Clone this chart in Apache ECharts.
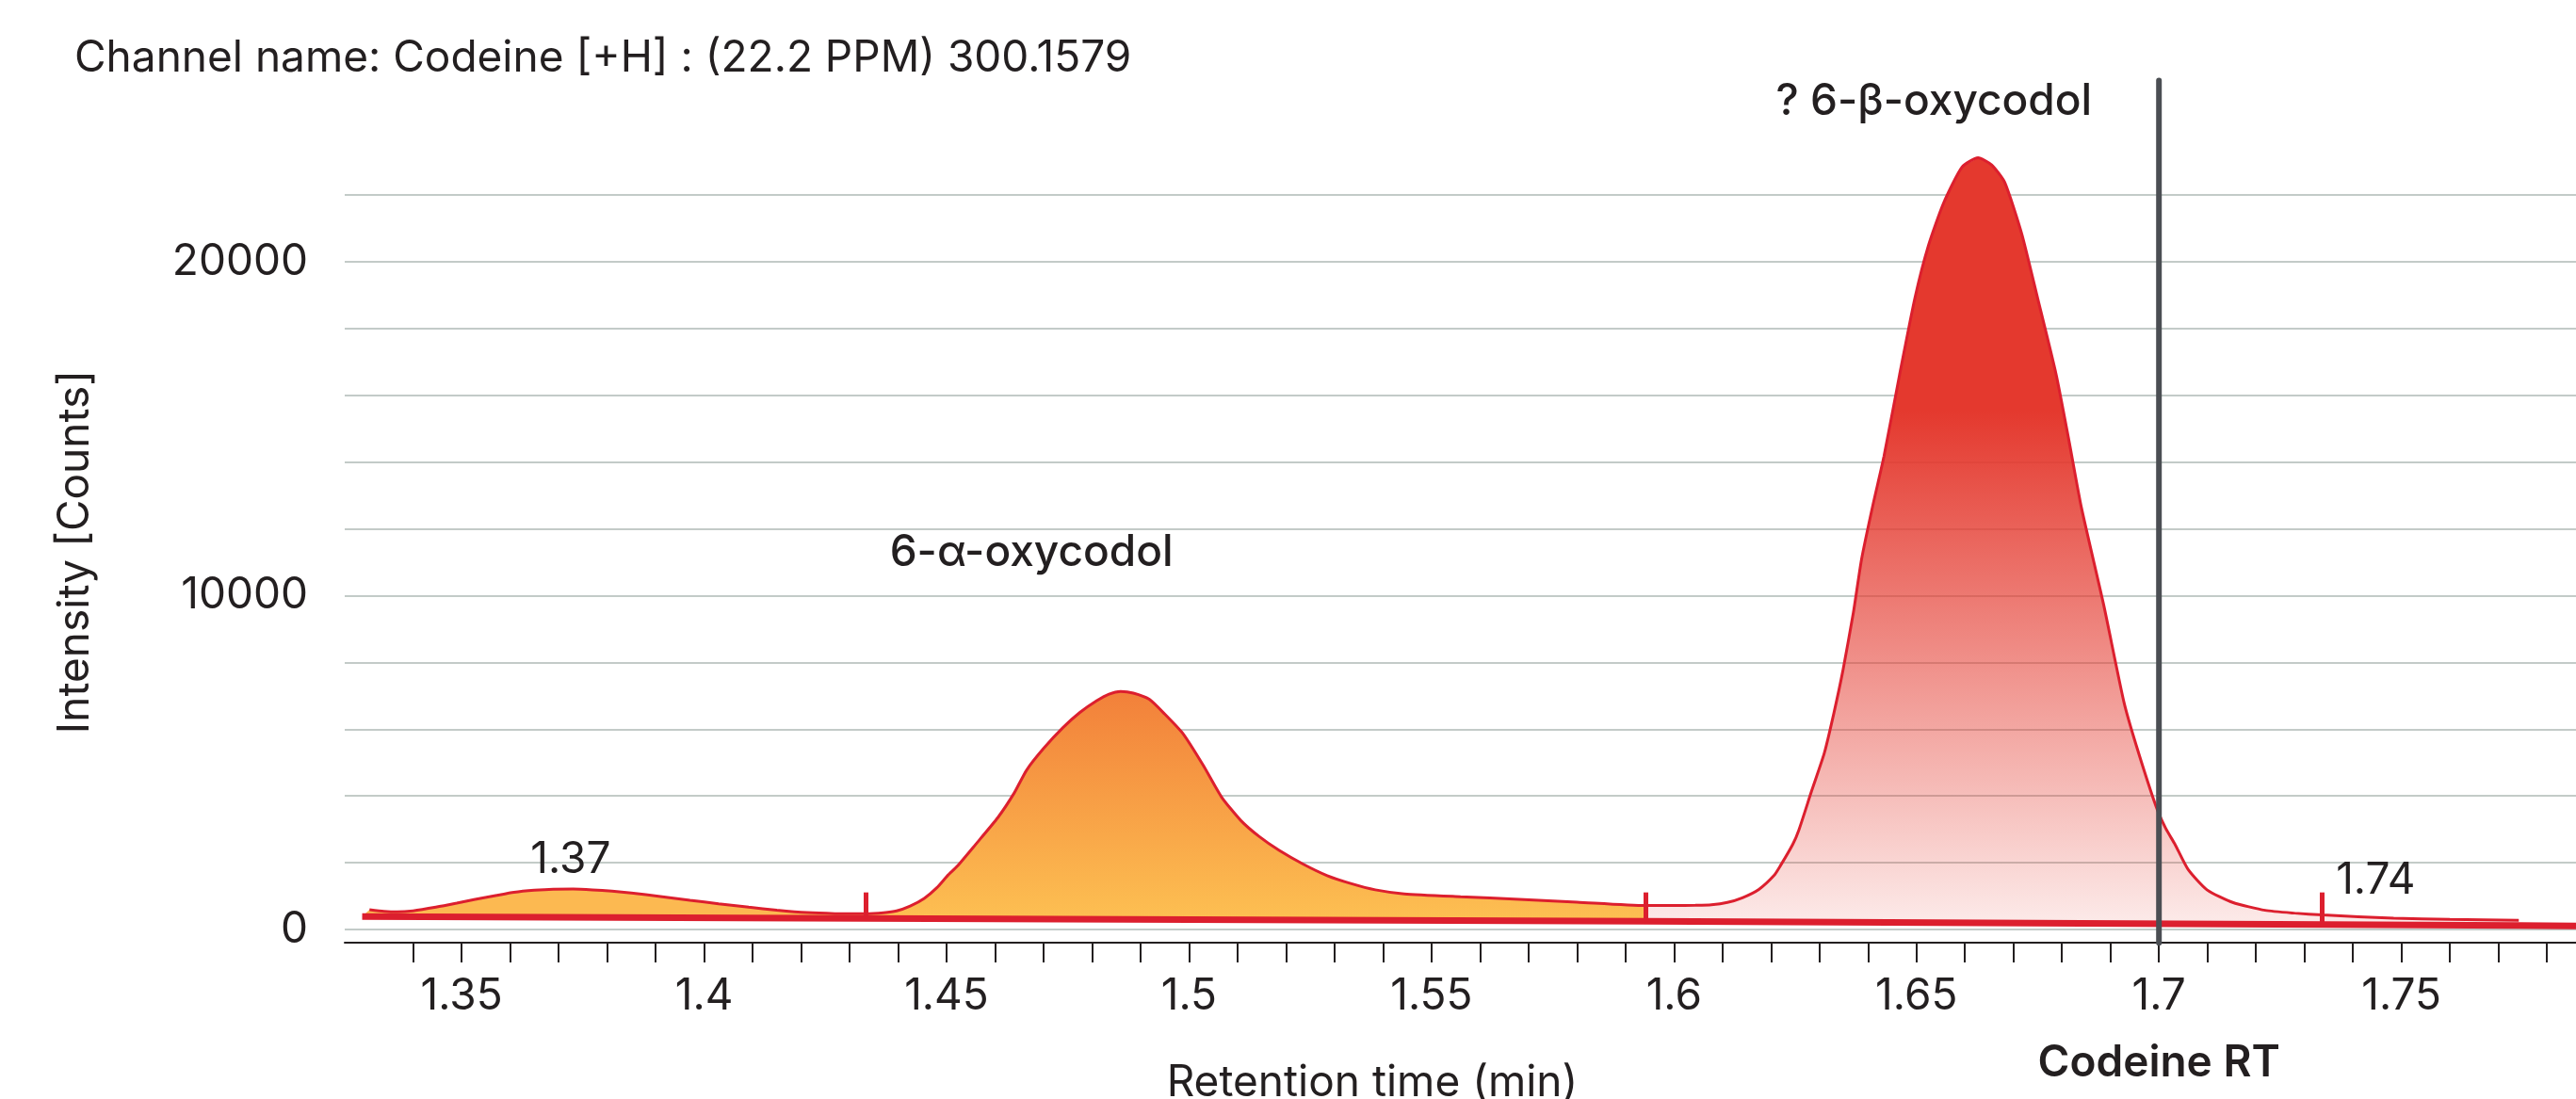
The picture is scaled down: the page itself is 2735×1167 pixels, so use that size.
<!DOCTYPE html>
<html>
<head>
<meta charset="utf-8">
<title>Codeine [+H] channel</title>
<script src="https://cdn.jsdelivr.net/npm/echarts@6/dist/echarts.min.js"></script>
<style>
  html, body { margin: 0; padding: 0; background: #fff; }
  #chart { width: 2735px; height: 1167px; }
</style>
</head>
<body>
<div id="chart"></div>
<script>
// trace: retention time (min) and intensity (counts)
var traceRT = [
  1.3310, 1.3340, 1.3367, 1.3400, 1.3447, 1.3490, 1.3528, 1.3570, 1.3608, 1.3650,
  1.3689, 1.3730, 1.3770, 1.3810, 1.3850, 1.3910, 1.3971, 1.4030, 1.4092, 1.4150,
  1.4212, 1.4270, 1.4333,
  1.4370, 1.4397, 1.4425, 1.4454, 1.4480, 1.4502, 1.4522, 1.4560, 1.4606, 1.4640,
  1.4665, 1.4700, 1.4740, 1.4775, 1.4809, 1.4835, 1.4859, 1.4885, 1.4918, 1.4950,
  1.4988, 1.5030, 1.5067, 1.5107, 1.5145, 1.5186, 1.5235, 1.5285, 1.5335, 1.5384,
  1.5444, 1.5560, 1.5681, 1.5800, 1.5941,
  1.6000, 1.6044, 1.6077, 1.6110, 1.6141, 1.6175, 1.6206, 1.6219, 1.6245, 1.6258,
  1.6284, 1.6310, 1.6330, 1.6348, 1.6370, 1.6387, 1.6410, 1.6433, 1.6465, 1.6497,
  1.6525, 1.6556, 1.6594, 1.6627, 1.6655, 1.6682, 1.6717, 1.6750, 1.6788, 1.6815,
  1.6840, 1.6886, 1.6928, 1.6954, 1.6994, 1.7014, 1.7033, 1.7060, 1.7099, 1.7152,
  1.7219, 1.7280, 1.7338, 1.7484, 1.7600, 1.7742
];
var traceCounts = [
  594, 545, 528, 560, 669, 790, 905, 1015, 1113, 1175,
  1207, 1210, 1188, 1150, 1094, 990, 877, 770, 669, 580,
  505, 475, 470,
  500, 556, 700, 930, 1250, 1612, 1895, 2550, 3357, 4100,
  4772, 5420, 6045, 6500, 6846, 7050, 7129, 7080, 6893, 6450,
  5856, 4900, 3969, 3262, 2780, 2367, 1960, 1612, 1370, 1188,
  1066, 980, 905, 820, 716,
  716, 724, 740, 810, 950, 1200, 1612, 1900, 2554, 3000,
  4158, 5285, 6500, 7731, 9500, 11106, 12700, 14173, 16600, 18925,
  20500, 21760, 22835, 23112, 22900, 22377, 20840, 18900, 16625, 14600,
  12645, 9726, 6800, 5478, 3687, 3027, 2554, 1801, 1188, 811,
  575, 490, 434, 339, 300, 273
];

// integration baseline (thick red line)
var baseRT = [1.3295, 1.4333, 1.5941, 1.7742, 1.7860];
var baseCounts = [385, 331, 245, 122, 105];

// integrated peak windows
var peakFrom = [1.3295, 1.4333, 1.5941];
var peakTo = [1.4333, 1.5941, 1.7742];

// small red peak-boundary marks
var markRT = [1.4333, 1.5941, 1.7336];
var markBase = [331, 245, 150];
var markTop = 1110;

// codeine reference retention time
var codeineRT = 1.7;
var rtLineFrom = -400;
var rtLineTo = 25430;

var xTicks = [1.34, 1.35, 1.36, 1.37, 1.38, 1.39, 1.40, 1.41, 1.42, 1.43, 1.44, 1.45,
  1.46, 1.47, 1.48, 1.49, 1.50, 1.51, 1.52, 1.53, 1.54, 1.55, 1.56, 1.57, 1.58, 1.59,
  1.60, 1.61, 1.62, 1.63, 1.64, 1.65, 1.66, 1.67, 1.68, 1.69, 1.70, 1.71, 1.72, 1.73,
  1.74, 1.75, 1.76, 1.77, 1.78];
var xLabels = [1.35, 1.4, 1.45, 1.5, 1.55, 1.6, 1.65, 1.7, 1.75];
var yLabels = [0, 10000, 20000];

var FONT = 'Inter, "Noto Sans", sans-serif';
var INK = '#231f20';
var RED = '#dc1f2e';

var chart = echarts.init(document.getElementById('chart'));

var fills = [
  '#fcb951',
  new echarts.graphic.LinearGradient(0, 0, 0, 1, [
    { offset: 0, color: '#f2803a' },
    { offset: 1, color: '#fdc052' }
  ]),
  new echarts.graphic.LinearGradient(0, 0, 0, 1, [
    { offset: 0, color: 'rgba(228,57,46,1)' },
    { offset: 0.33, color: 'rgba(228,57,46,1)' },
    { offset: 1, color: 'rgba(228,57,46,0.1)' }
  ])
];

function peakArea(params, api) {
  var k = api.value(2);
  var pts = [];
  for (var i = 0; i < traceRT.length; i++) {
    if (traceRT[i] >= peakFrom[k] && traceRT[i] <= peakTo[k]) {
      pts.push(api.coord([traceRT[i], traceCounts[i]]));
    }
  }
  for (var j = baseRT.length - 1; j >= 0; j--) {
    if (baseRT[j] >= peakFrom[k] && baseRT[j] <= peakTo[k]) {
      pts.push(api.coord([baseRT[j], baseCounts[j]]));
    }
  }
  return { type: 'polygon', shape: { points: pts }, style: { fill: fills[k] } };
}

var option = {
  animation: false,
  backgroundColor: '#fff',
  textStyle: { fontFamily: FONT },
  grid: { left: 366, right: 0, top: 207, bottom: 180 },
  xAxis: {
    type: 'value',
    min: 1.3259,
    max: 1.786,
    offset: 14,
    axisLine: { onZero: false, lineStyle: { color: INK, width: 2 } },
    axisTick: { show: true, length: 21, customValues: xTicks, lineStyle: { color: INK, width: 2 } },
    axisLabel: {
      customValues: xLabels,
      margin: 34,
      fontSize: 46,
      color: INK,
      fontFamily: FONT,
      formatter: function (v) { return String(parseFloat(v.toFixed(2))); }
    },
    splitLine: { show: false }
  },
  yAxis: {
    type: 'value',
    min: 0,
    max: 22000,
    interval: 2000,
    axisLine: { show: false },
    axisTick: { show: false },
    axisLabel: {
      margin: 39,
      fontSize: 46,
      color: INK,
      fontFamily: FONT,
      formatter: function (v) { return yLabels.indexOf(v) >= 0 ? String(v) : ''; }
    },
    splitLine: { lineStyle: { color: '#c3cbc8', width: 2 } }
  },
  series: [
    {
      type: 'custom',
      name: 'peaks',
      coordinateSystem: 'cartesian2d',
      clip: false,
      silent: true,
      z: 2,
      encode: { x: 0, y: 1 },
      data: peakFrom.map(function (s, i) { return [s, 0, i]; }),
      renderItem: peakArea
    },
    {
      type: 'line',
      name: 'trace',
      data: traceRT.map(function (t, i) { return [t, traceCounts[i]]; }),
      showSymbol: false,
      smooth: 0.2,
      clip: false,
      z: 3,
      lineStyle: { color: RED, width: 3 }
    },
    {
      type: 'line',
      name: 'baseline',
      data: baseRT.map(function (t, i) { return [t, baseCounts[i]]; }),
      showSymbol: false,
      clip: false,
      z: 4,
      lineStyle: { color: RED, width: 7 },
      markLine: {
        silent: true,
        symbol: ['none', 'none'],
        label: { show: false },
        lineStyle: { color: RED, width: 5, type: 'solid' },
        data: markRT.map(function (t, i) {
          return [{ coord: [t, markBase[i]] }, { coord: [t, markTop] }];
        })
      }
    },
    {
      type: 'line',
      name: 'Codeine RT',
      data: [[codeineRT, rtLineFrom], [codeineRT, rtLineTo]],
      showSymbol: false,
      clip: false,
      z: 5,
      lineStyle: { color: '#4b4e53', width: 6, cap: 'round' }
    }
  ]
};

chart.setOption(option);

function at(x, y) { return chart.convertToPixel({ gridIndex: 0 }, [x, y]); }

function txt(pos, text, size, weight, align) {
  return {
    type: 'text',
    x: pos[0],
    y: pos[1],
    z: 10,
    style: {
      text: text,
      fill: INK,
      font: weight + ' ' + size + 'px ' + FONT,
      textAlign: align || 'center',
      textVerticalAlign: 'middle'
    }
  };
}

var pLow = at(1.3725, 2093);
var pTail = at(1.7365, 1471);
var pAlpha = at(1.4675, 11287);
var pBeta = at(1.6536, 24781);
var pRT = at(codeineRT, 0);

chart.setOption({
  graphic: [
    txt([79, 62], 'Channel name: Codeine [+H] : (22.2 PPM) 300.1579', 46, 400, 'left'),
    txt(pLow, '1.37', 46, 400),
    txt(pTail, '1.74', 46, 400, 'left'),
    txt(pAlpha, '6-α-oxycodol', 46, 500),
    txt(pBeta, '? 6-β-oxycodol', 46, 500),
    txt([pRT[0], 1129], 'Codeine RT', 46, 600),
    txt([1457, 1150], 'Retention time (min)', 46, 400),
    {
      type: 'text',
      x: 80,
      y: 586,
      rotation: Math.PI / 2,
      z: 10,
      style: {
        text: 'Intensity [Counts]',
        fill: INK,
        font: '400 46px ' + FONT,
        textAlign: 'center',
        textVerticalAlign: 'middle'
      }
    }
  ]
});
</script>
</body>
</html>
